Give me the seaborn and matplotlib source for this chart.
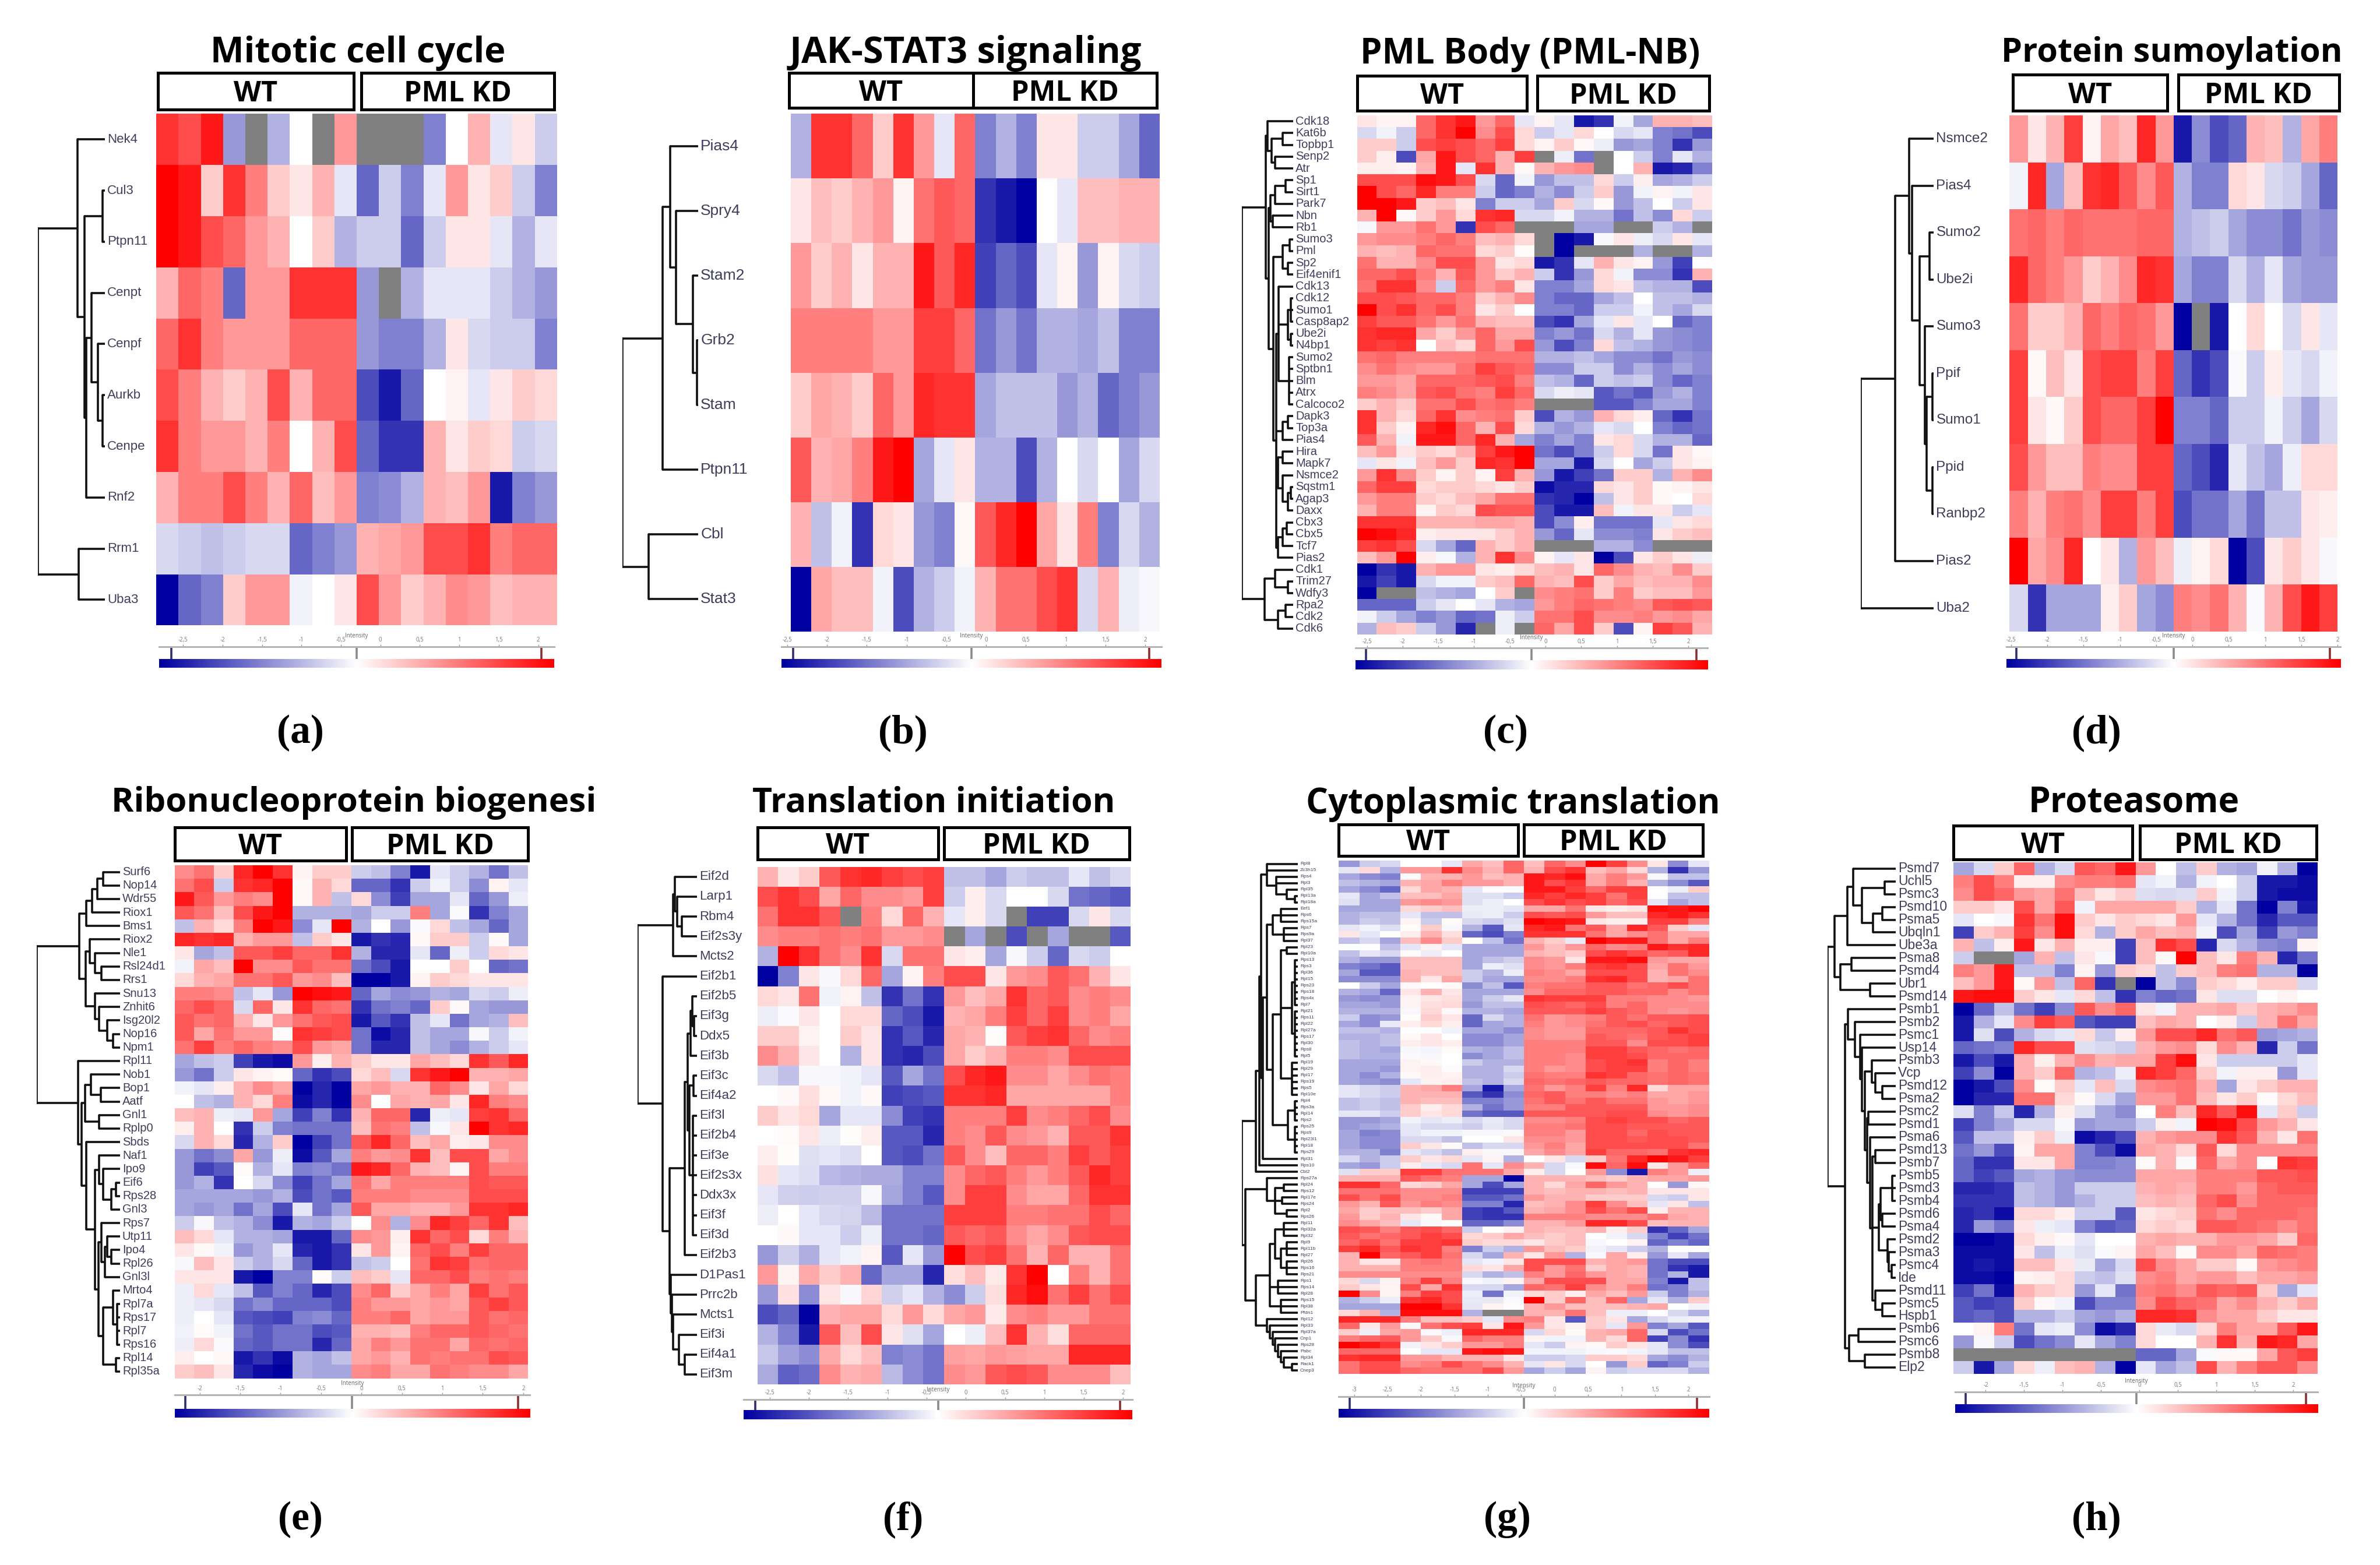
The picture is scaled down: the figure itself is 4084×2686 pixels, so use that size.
import numpy as np
import pandas as pd
import matplotlib
matplotlib.use("Agg")
import matplotlib.pyplot as plt
from matplotlib.colors import LinearSegmentedColormap
import seaborn as sns

X = np.nan  # grey cells (missing values)

a_genes = ["Nek4", "Cul3", "Ptpn11", "Cenpt", "Cenpf", "Aurkb", "Cenpe", "Rnf2", "Rrm1", "Uba3"]
a_rows = [
    [8,7,9,-4,X,-3,0,X,4,X,X,X,-5,0,3,-1,1,-2],
    [10,9,2,8,5,2,1,3,-1,-6,-2,-5,-1,4,1,2,-2,-5],
    [10,9,7,6,4,3,0,2,-3,-2,-2,-6,-2,1,1,-1,-3,-1],
    [3,6,5,-6,4,4,8,8,8,-4,X,-3,-1,-1,-1,-2,-3,-4],
    [6,8,5,4,4,4,6,6,6,-4,-5,-5,-3,1,-1.5,-2,-2,-5],
    [7,5,3,2,3,7,3,6,6,-7,-9,-6,0,0.5,-1,1,2,1.5],
    [8,5,4,4,3,5,0,3,7,-6,-8,-8,3,1,2,1.5,-2,-1.5],
    [3,5,5,7,5,3,6,2.5,4,-5,-4.5,-3,3,2.5,4,-9,-5,-4],
    [-1.5,-2,-2.5,-2,-1.5,-1.5,-6,-5,-4,3,3.5,4,7,7,8,5,6,6],
    [-10,-6,-5,2,4,4,-0.5,0,1,7,4,2,3,4.5,4,2.5,3,3],
]
a_tree = [1,[.41,1,[.3,[.03,2],[.28,[.2,1,[.1,1,[.03,2]]],1]]],[.39,2]]

b_genes = ["Pias4", "Spry4", "Stam2", "Grb2", "Stam", "Ptpn11", "Cbl", "Stat3"]
b_rows = [
    [-3,8,8,6,2,8,4,-1,6,-5,-3,-5,1,1,-2,-2,-3.5,-6],
    [1,2.5,2,3,4,0.5,5.5,6.5,6,-8,-9,-10,0,-1,2.5,2.5,3,3],
    [4,2,3,1,3,3,9,6.5,8.5,-7.5,-6,-7,-1,0.5,-4,0.5,-1.5,-2],
    [5,5,5,5,4,4,7.5,7.5,6,-5.5,-4,-5.5,-3,-3,-3.5,-2.5,-5,-5],
    [2,3.5,3,2,6,4,8.5,8,8,-3.5,-2.5,-2.5,-2.5,-4,-3,-6,-5,-4],
    [6.5,3,3.5,5,9,10,-3.5,-1,1,-3,-3,-7,-3,0,-1.5,0,-3.5,-1.5],
    [3,-2.5,-0.5,-8,1.5,1,-4,-5,0.3,6.5,8.5,10,3.5,1,5,-5,-1.5,-3],
    [-10,3.5,2.5,2.5,-0.5,-7,-3,-2,-0.5,3,5.5,5.5,7,8,-1.5,3,-0.7,-0.3],
]
b_tree = [1,[.47,[.37,1,[.29,1,[.07,1,[.02,2]]]],1],[.65,2]]

c_genes = ["Cdk18", "Kat6b", "Topbp1", "Senp2", "Atr", "Sp1", "Sirt1", "Park7", "Nbn", "Rb1", "Sumo3", "Pml",
           "Sp2", "Eif4enif1", "Cdk13", "Cdk12", "Sumo1", "Casp8ap2", "Ube2i", "N4bp1", "Sumo2", "Sptbn1", "Blm",
           "Atrx", "Calcoco2", "Dapk3", "Top3a", "Pias4", "Hira", "Mapk7", "Nsmce2", "Sqstm1", "Agap3", "Daxx",
           "Cbx3", "Cbx5", "Tcf7", "Pias2", "Cdk1", "Trim27", "Wdfy3", "Rpa2", "Cdk2", "Cdk6"]
c_rows = [
    [1,0.5,0.5,6,8,9,4,6,-1,0.5,-1,-9,-8,-0.5,-3.5,3,3,2.5],
    [-1.5,-0.5,-2,6,8,10,4.5,7,1.5,-2,-1,1.5,0,-1.5,-1,-5,-5.5,-7],
    [2,2,-2,7,7.5,7,6,7.5,1.5,0.5,2,0.3,-0.7,-4,-3.5,-5,-8,-4],
    [2,0.7,-7,3.5,9,7,6,3,7.5,X,-0.7,-5.5,X,0,-2,-5,-1,-3],
    [0.7,0.7,0.5,3,9,-1,8,3,0.3,3,4,4.5,X,0,3,-9,-8.5,-5],
    [7,7,7,9.5,9,7,-1.5,-6,-0.5,-4,-2.5,-2.5,1.5,-2,0.7,-3.5,-3,-2],
    [10,7,6,8.5,5,5,-2,-6,-5,-3,-4.5,-2,2,-4,-0.5,0.5,-0.5,1],
    [10,10,9,2,2.5,1,-5,-2,-2,-3.5,2,-1.5,0.3,-4,-2.5,0,-2,1],
    [3,10,0.3,2,4,1.5,8,8.5,-1.5,-1.5,-0.5,-3,-3,-5.5,-2.5,-4.5,1.5,-2],
    [-0.3,4,4,5.5,4,-8,7,6,X,X,X,-3.5,-3.5,X,X,-2,-3,X],
    [4,4.5,4.5,5,6,5,2.5,3,1.5,X,-10,-9,-0.3,1,-0.7,-1.5,1,-1],
    [3,2.5,3,6,5.5,5.5,1.5,2,0.2,X,-10,X,X,X,-3,X,X,-3],
    [5.5,3,3,4.5,7,7,4,1,1.5,-9,-8,-1,3,1,0.5,-4,-7.5,0],
    [6,6,7,5,3,6.5,4,2,3,-2,-8,-4,1.5,-0.5,-4.5,-4.5,-8,3],
    [5.5,8,8,4.5,-2,6,4,5,1,-5,-5,-3.5,1.5,1,-2.5,-3,-3,-7],
    [7,7,6.5,6,6,5,2,3,4.5,-5,-6,-6,-3.5,-2.5,0,-2.5,-2.5,-3],
    [10,7,8,6,7,5,1,2,0,-5,-5,-6,-2,-2,-0.5,-2.5,-3.5,-1.5],
    [7.5,6.5,6.5,5.5,4,5.5,3,2.5,2.5,-7,-8,-3.5,-1,1,-1,0,-6,-5],
    [8,8.5,8.5,3.5,2,4,6,3.5,3.5,-5,-4,-5.5,-1.5,-3,-1,-4,-4.5,-5],
    [8,7.5,8,0,2.5,1.5,6,4,7,-4,-7,-5,1.5,-2.5,-3,-4,-4.5,-5],
    [5.5,6,5,5,5,5,5.5,5.5,5.5,-3,-3,-2.5,-3.5,-4.5,-4.5,-5.5,-4,-4.5],
    [4.5,5.5,4.5,4,4,5.5,7.5,6.5,6,-4.5,-4.5,-2,-2,-4.5,-3,-4.5,-3.5,-4.5],
    [4,4,3.5,6,6,6,6.5,7,5,-2.5,-3,-6,-2,-2.5,-2,-4.5,-6,-5],
    [5,4.5,3.5,6.5,7,5.5,5,7.5,6,-1.5,-0.7,-1,-6.5,-5.5,-6.5,-4,-3,-5],
    [2,3,2,5.5,5.5,7,5.5,6,5,X,X,X,-6.5,-6.5,-5,-3.5,-3.5,-5],
    [8,3,1.5,6,8,4.5,5,5.5,2,-7,-3,-4,3,1.5,0.7,-6,-8,-5.5],
    [8,2,0.5,8.5,9.5,6,3,7,1.5,-3,-4,-3,-1,-1.5,0,-5,-6,-5.5],
    [6.5,3,-0.5,9,9,6,8.5,3,-3.5,-5,-3.5,-5,1,1.5,-1.5,-3,-3,-6],
    [2.5,4,1,2,1.5,3,7.5,9,10,-5.5,-7,-5,-2,1.5,-1.5,-5.5,1,0.3],
    [-1,1,-0.5,2.5,4,2,8.5,8,10,-3.5,-3.5,-9,-1.5,0,-3.5,-2,1,0.5],
    [4,8,4.5,2,0.5,2,0.5,7.5,3,-4,-9,-7.5,-5.5,2,2,-3,3,4.5],
    [6,7.5,7.5,1.5,2,2,1.5,1,2,-9.5,-8.5,-8.5,1.5,1,2,0.3,0.5,1],
    [4,5,5,2,1.5,2.5,3.5,5.5,5.5,-8,-8.5,-10,-2.5,1,2,0.3,0,1.5],
    [3,5,5,0.5,2,1.5,7,6.5,6.5,-7,-9,-9,2.5,-0.5,1,1,-2,-1],
    [8,8,8,3,3,3,3.5,3.5,3,-7,-4.5,0.7,-5.5,-5.5,-5.5,-1,1,1.5],
    [10,9.5,8.5,0.7,1,1,1,2,3,-4,-6,-1,-4.5,-4.5,-5,1,2,2.5],
    [7.5,8,7,-1.5,-3.5,-6,3,2,3,X,X,X,-3,-3,-4.5,X,X,X],
    [2.5,4,10,0.7,-0.3,-3,3,8,4.5,0.5,-1,1,-10,-7,1,2,1,-0.7],
    [-10,-8,-9,3,4,4,1,0.7,1.5,2.5,3,1,6,4.5,3,2.5,4.5,2],
    [-9,-7.5,-9,-1.5,-0.5,-0.5,2,2.5,6,3,2.5,7,2,3.5,2.5,3,3,4.5],
    [-10,X,X,-2.5,-3,-3.5,0,2,X,4.5,5,5.5,2,5,2,2.5,2.5,4],
    [-6,-6,-6,-2,-1,0,-1,-3,-3.5,4,5,6,5.5,5,4.5,6.5,7,6.5],
    [-0.5,-2,-3.5,-5,-4,-6,-5.5,-0.7,-2,5.5,5.5,7,4.5,4.5,5,4,4.5,3.5],
    [-3,2.5,2,-2,-4,-8.5,X,-0.7,X,6,3.5,7,2,-7,0.5,7.5,6.5,3],
]
c_tree = [1,
          [.53,[.5,1,[.42,[.2,2],[.35,2]]],
           [.48,[.44,[.35,[.15,2],1],[.4,2]],
            [.38,[.2,[.07,2],[.1,2]],
             [.33,[.28,1,[.1,[.05,3],[.05,2]],[.08,5]],[.2,[.1,2],1],
              [.3,[.2,2],[.2,1,[.1,[.05,2],1]]],[.3,[.2,[.12,2],1],1]]]]],
          [.56,[.35,1,[.1,2]],[.3,[.15,2],1]]]

d_genes = ["Nsmce2", "Pias4", "Sumo2", "Ube2i", "Sumo3", "Ppif", "Sumo1", "Ppid", "Ranbp2", "Pias2", "Uba2"]
d_rows = [
    [4,1,3,7.5,0.5,3.5,2.5,8.5,4,-9,-4.5,-7,-6,3,2.5,-3,3.5,5],
    [-0.5,8.5,-3.5,2.5,8,8.5,6.5,4.5,6.5,-3,-5,-5,1.5,1,-1.5,-2,-3.5,-6],
    [5.5,6,5,6,5.5,5.5,5.5,6,6,-3,-2.5,-2,-3.5,-4.5,-4.5,-5.5,-4,-4.5],
    [8.5,6,5,4,2,3,4.5,8.5,8,-3.5,-5,-5,-1.5,-3,-1,-3.5,-4,-4],
    [5.5,2,2,3,6,5,6,5.5,4,-10,X,-9,0,1.5,0,-1.5,1,-1],
    [7.5,0.3,2.5,1,7,7.5,7.5,5,7.5,-6,-8,-7,-0.2,-2,0.7,-1,-1.5,-0.5],
    [7.5,1,0.3,2,7,6,6,7.5,10,-5,-5,-6,-2,-2,-0.5,-2,-3.5,-1.5],
    [7,4,2.5,2.5,5,4.5,4.5,7.5,7.5,-6,-7,-8.5,-1,-2.5,-3.5,-0.7,1.5,1.5],
    [5,3,5,5.5,4.5,7.5,7.5,5,7.5,-7,-5.5,-5.5,-3.5,-5.5,-2.5,-2.5,1,0.7],
    [10,3.5,4.5,8.5,0,1,-3,4,2.5,-0.7,0.5,1.5,-10,-7,1,2,1,-0.3],
    [-1.5,-8,-3.5,-3.5,-3.5,0.7,2,-3.5,-4.5,5,4.5,5.5,3,-0.2,3,7,9,7.5],
]
d_tree = [1,[.53,[.34,1,[.3,1,[.19,[.06,2],[.12,1,[.1,[.02,2],[.02,2]]]]]],1],1]

e_genes = ["Surf6", "Nop14", "Wdr55", "Riox1", "Bms1", "Riox2", "Nle1", "Rsl24d1", "Rrs1", "Snu13", "Znhit6",
           "Isg20l2", "Nop16", "Npm1", "Rpl11", "Nob1", "Bop1", "Aatf", "Gnl1", "Rplp0", "Sbds", "Naf1", "Ipo9",
           "Eif6", "Rps28", "Gnl3", "Rps7", "Utp11", "Ipo4", "Rpl26", "Gnl3l", "Mrto4", "Rpl7a", "Rps17", "Rpl7",
           "Rps16", "Rpl14", "Rpl35a"]
e_rows = [
    [4.5,5.5,2,8.5,10,8,0.5,2,2,-2,-2.5,-5,-9,-1,-2,-3,-5.5,-2.5],
    [5.5,7,-2,8,8.5,10,0.3,3,1.5,-6,-6,-8,-2,-0.5,-2,-4.5,0.5,-1],
    [9,6.5,4,5,4.5,10,0.3,3,-2.5,1.5,-4.5,-7.5,-3.5,-3.5,-1,-6,-4,-0.7],
    [6.5,5.5,2.5,7,9,10,-3,-3,-3,-3.5,-2,-2,5,-3.5,-0.2,-8,-5,-3.5],
    [-2.5,3,1.5,5,10,9,-4.5,-1,10,-3,0,-4,-0.2,1.5,-2.5,-3.5,-6,-3.5],
    [8.5,8,8.5,3,4,4,-2.5,2,1,-9,-8,-8.5,0.3,2,2,-2,0.3,-3.5],
    [1,-3.5,-2.5,6.5,6.5,7.5,6,6,8,-3,-8.5,-8.5,-1,-6,-0.7,-2,1.5,1],
    [-0.5,3.5,2.5,10,4.5,4.5,6.5,5.5,5.5,-5.5,-7,-9,0,0,2,0,-6,-5.5],
    [1.5,3,3.5,5.5,5.5,6.5,4,4.5,2.5,-10,-10,-9,0.5,2,1.5,1,1,1],
    [5,5,4.5,-2.5,-1,-4,10,9.5,9,-6,-3.5,-4.5,-4,-3,-3.5,-1.5,-2,-0.7],
    [6,7,6,-1.5,6,1,8,6,5.5,-8,-5.5,-5,-6,2,0.3,-3.5,-4,-4],
    [6.5,5.5,6,3,1,4,5.5,6.5,7,-9,-6.5,-8,-2.5,-1,-5.5,-3.5,-3,2.5],
    [6.5,3.5,5.5,4,4,0.2,8,7.5,7,-5.5,-9.5,-8.5,-2.5,-3.5,-3.5,-0.3,-2,-0.5],
    [5.5,7.5,5,6,5,4.5,7,4,3.5,-5.5,-8.5,-8.5,-2.5,-3.5,-4.5,-3,-2,-1],
    [-3.5,-2.5,-2,-7.5,-9,-9.5,4,0.7,3,2,1,1,3.5,2.5,1.5,8,6.5,8.5],
    [-4,-5.5,-2,1,0.5,0.2,-6,-8,-7,1.5,2.5,-1.5,8,9,10,3,3,3.5],
    [-0.5,-1,0.7,3,4.5,3.5,-10,-8.5,-10,3.5,4,3,3,6,4.5,1,3.5,1.5],
    [0,-2.5,-3,3,1.5,5,-9.5,-8.5,-10,4.5,0,3.5,3,3.5,1,8.5,5,4.5],
    [2.5,3,-0.7,-1,4,-3.5,-7.5,-5,-8,3,6,6,-8.5,-0.7,-1,7.5,8,6],
    [0.7,3,0,-8,-2,-5,-5.5,-5.5,-5.5,2.5,5.5,5,-2.5,-0.3,1,10,8,8.5],
    [-1.5,3,1.5,-8.5,-3,2,-10,-7.5,-5.5,6.5,8.5,6,2.5,3.5,0.7,1,4.5,4.5],
    [-4,-5.5,-4.5,3.5,-4,-0.7,-9.5,-6.5,-3.5,5,4,4.5,8,2.5,7,7,3.5,4.5],
    [-4,-7.5,-6.5,0.2,-3,-1,-5,-4.5,-5.5,9,8.5,6,3,2.5,0.5,7,5,5],
    [-4,-3,-8,0,-1.5,-4.5,-7.5,-5.5,-3.5,5.5,3.5,5,5,5,5,7,6.5,6.5],
    [-3.5,-3.5,-3.5,-3.5,-4,-3,-7,-5.5,-6.5,5,5,5,4.5,4.5,4.5,7,7,7],
    [-3.5,-4,-3.5,-5.5,-3.5,-7,-1,-5.5,-3.5,6.5,3.5,3.5,3,3,4,8,8,8.5],
    [-2,-0.3,-2.5,-3,-4.5,-9,-3,-3.5,-2,0,4.5,-3,4.5,8.5,7.5,6,8,2.5],
    [2.5,1.5,-1,-3,-3,-3.5,-9,-9,-6,4.5,4,0.7,8,6,7,1.5,5,3],
    [1,0.3,-0.5,-4,-3,-1,-8.5,-9,-8,1,4,0.5,6,7,5,7.5,6,6],
    [-0.3,2.5,1,-2,-3,-1.5,-6,-9,-8,-2.5,-2,0,5.5,8,7.5,5.5,6,6],
    [1,1,1,-9,-10,-5,-5,0.2,-2,2.5,2,-1,6,6,7,5,5.5,5],
    [-0.7,1.5,-1,-2.5,-6.5,-5,-6,-8.5,-7,4.5,6,2,3.5,5,3.5,7.5,5.5,6.5],
    [-0.7,-1,-1.5,-5.5,-4.5,-6,-6,-6,-7,5,4,4,3.5,4,3.5,6.5,7.5,6.5],
    [-0.7,0,-1,-6.5,-7,-7.5,-5,-4.5,-6,5,5,6,3.5,4,4,6.5,5.5,6],
    [-0.5,0.2,-0.5,-5.5,-6.5,-5.5,-5.5,-7,-6.5,3,3,2.5,5,6,6,6.5,6,5.5],
    [-0.7,1.5,-0.2,-6,-6.5,-5.5,-5.5,-8.5,-6,3.5,5,4,5.5,5.5,3.5,6,5.5,6],
    [0.7,0,0.3,-9,-8,-9.5,-3,-3.5,-2.5,3.5,4,3,5.5,5,5.5,5.5,7,6.5],
    [2,2.5,1,-8.5,-9.5,-10,-3,-3.5,-3.5,4.5,5,3.5,3.5,5.5,5,4.5,4.5,3.5],
]
e_tree = [1,
          [.49,[.4,[.33,[.27,[.2,2],1],1],1],
           [.41,[.36,1,[.3,1,[.22,2]]],[.3,1,[.25,1,[.15,1,[.08,2]]]]]],
          [.5,1,[.46,[.42,[.35,1,[.23,2]],[.25,2]],
                 [.4,1,[.3,[.25,1,[.2,1,[.1,[.05,2],1]]],
                        [.26,[.22,1,[.18,[.15,1,[.1,2]],1]],[.2,[.08,1,[.03,4]],[.05,2]]]]]]]]

f_genes = ["Eif2d", "Larp1", "Rbm4", "Eif2s3y", "Mcts2", "Eif2b1", "Eif2b5", "Eif3g", "Ddx5", "Eif3b", "Eif3c",
           "Eif4a2", "Eif3l", "Eif2b4", "Eif3e", "Eif2s3x", "Ddx3x", "Eif3f", "Eif3d", "Eif2b3", "D1Pas1", "Prrc2b",
           "Mcts1", "Eif3i", "Eif4a1", "Eif3m"]
f_rows = [
    [3,1,2,6.5,8,8.5,7.5,7,7.5,-2.5,-2.5,-3.5,-2,-2.5,-2.5,-1,-2.5,-1.5],
    [7,8,7,3.5,6,4.5,4.5,4,7.5,-2,0.7,-1.5,0,0,-1.5,-5.5,-6,-6.5],
    [5.5,8,8,6.5,X,5,1.5,6,3,-1,0.7,-1.5,X,-7.5,-7.5,-1.5,1,-1.5],
    [4.5,5,5,5.5,5,5.5,4,4,4.5,X,-3.5,X,-7,X,-3.5,X,X,-6.5],
    [-3,10,8,5.5,4.5,8,-1.5,5.5,5.5,1,0.7,-3.5,-0.3,-2,-6,-1.5,-2,0],
    [-10,-5,1,-0.3,1.5,6,-3.5,0.5,5,7,7,1,4,4.5,6.5,5.5,3,1],
    [1.5,1,5.5,-0.5,0.5,-2.5,-8,-5.5,-8,4,2.5,3.5,8,6,6.5,4.5,5,4.5],
    [-0.7,-0.2,1,0,1.5,1.5,-6,-7,-9,3,3.5,5,7.5,6,7.5,4.5,5,3.5],
    [2,2,0.5,0,2,1,-8,-6.5,-8.5,3.5,3,0.1,6.5,7.5,8,6,4.5,5],
    [4.5,3,1,0,-3,1,-8,-8.5,-7,3.5,2,3,5,5,4.5,7,7,7],
    [-1.5,-2.5,-0.3,-0.3,-0.5,-1,-6.5,-3.5,-5.5,7,8.5,9,4.5,4.5,3.5,4.5,5.5,5],
    [0,0.3,1.3,0.3,-0.5,0.3,-7.5,-7,-6.5,8,8,8.5,3.5,3.5,3.5,3.5,3.5,5],
    [2,1,1.5,-3.5,-1,-1,-4.5,-7.5,-8,5,5,5,7.5,4.5,5,6,7,4.5],
    [0,0.2,1,-0.7,0.1,0.7,-6.5,-6.5,-8.5,5,4.5,6.5,4.5,4,3,6.5,6.5,8],
    [0.7,0.1,-1.2,-1,-1.3,0,-6.5,-7,-5.5,6.5,4.5,2.5,6,6,5,7.5,6.5,7.5],
    [1.2,-1,-1.3,-2.8,-3,-3.3,-3.3,-5,-5,4.5,6,6.5,5,4,5,6.5,8.5,7.5],
    [-1,-1.8,-2,-1.8,-1.8,-0.3,-3.5,-5,-6.5,4.5,7.5,7.5,4.5,3.5,3.5,6,8,8],
    [-0.7,0,-1,-1.5,-1.7,-2.7,-5.5,-5.5,-5.5,7.5,7.5,7.5,5,5,5.5,5.5,7,6],
    [0,0.3,-1,-1,-2,-0.7,-5.5,-5.5,-6,6.5,6,6.5,4.5,3.5,4.5,6.5,7,7],
    [-4,-1.8,-3.2,-1,-0.5,0.5,-6.5,-1,-4,10,7,7.5,5.5,3,6,3,3,5.5],
    [4,0.4,3.3,2,3,-6,-3.5,-3.5,-8.5,1.3,2.5,0.8,8,10,0,5,3,5.5],
    [-4,1.2,-4.5,1,-0.3,1.7,-1.8,-1,-3,-4.5,-2,1.3,8.5,9.5,5.5,7.5,5.5,7],
    [-7,-6,-10,3,3.5,3.5,1.5,4,1.5,3.5,4,0.8,4.5,5,4,4,5.5,5.5],
    [-3,-5,-9,6.5,2.5,7,1,-1.2,-3.5,0,-0.7,2.5,8,3,1.3,6,6,6],
    [-2.2,-3.7,-4.5,3.3,1.5,2.5,-5,-4.5,-5.5,3.7,3.5,4,3.7,3.5,3.5,8.5,8.5,8.5],
    [-3.3,-6.2,-5.7,4.5,3,3.3,-2.7,-4.5,-5.5,4.5,4,6.5,7,6.5,4.5,4.5,4.5,2.5],
]
f_tree = [1,[.4,[.37,1,[.33,1,[.25,2]]],1],
          [.58,1,[.46,[.28,[.2,[.15,[.1,[.07,1,[.04,2]],1],[.12,[.05,2],[.06,7]]],1]],
                  [.44,1,[.42,1,[.4,1,[.3,1,[.2,2]]]]]]]]

g_genes = ["Rpl8", "Zc3h15", "Rps4", "Rpl3", "Rpl35", "Rpl13a", "Rpl18a", "Eef1", "Rps6", "Rps15a", "Rps7", "Rps9a",
           "Rpl37", "Rpl23", "Rpl10a", "Rps13", "Rps3", "Rpl36", "Rpl15", "Rps23", "Rps18", "Rps4x", "Rpl7", "Rpl21",
           "Rps11", "Rpl22", "Rpl27a", "Rps17", "Rpl30", "Rps8", "Rpl5", "Rpl19", "Rpl29", "Rpl17", "Rps19", "Rps5",
           "Rpl10e", "Rpl4", "Rps3a", "Rpl14", "Rps2", "Rps25", "Rps9", "Rpl23l1", "Rpl18", "Rps29", "Rpl31", "Rps10",
           "Cbl2", "Rps27a", "Rpl24", "Rps12", "Rpl17e", "Rps24", "Rpl2", "Rps26", "Rpl11", "Rpl32a", "Rpl32", "Rpl9",
           "Rpl11b", "Rpl27", "Rpl26", "Rps16", "Rps21", "Rps1", "Rps14", "Rpl28", "Rps15", "Rpl38", "Pfdn1", "Rpl12",
           "Rpl33", "Rpl37a", "Cnp1", "Rps28", "Pabc", "Rpl34", "Rack1", "Cnep3"]
g_rows = [
    [-4,-2,-1.5,0,0,-1,3.5,2.5,6,2.5,6,4.5,10,7.5,4.5,1,-4.5,-1],
    [-1,1.5,-3,4,4,8,4.5,3,6,3,7,8,2.5,3.5,1.5,-3,-8,-4],
    [-3.5,-4.5,-5,0.2,3,3,4,2.5,3,9,8.5,9.5,3.5,5,4,-0.3,-2.5,-2.5],
    [-2.5,-3,-3.5,3,3.5,5,4,4,3,9,7,8,3.5,5,3,-3,-4.5,-6.5],
    [-3.5,-4.5,-6,1.5,3.5,3,-1,0,0,9,9,7.5,6,7.5,7.5,0,-0.7,2],
    [-1,-3.5,-2.5,2.5,2.5,3.5,-1.2,-1.2,-2,8.5,7.5,8.5,7.5,5.5,7.5,0,-2.5,-2.5],
    [-1.2,-3.5,-3.5,4,4.5,4,-1.2,-0.7,0,7,8,7,7.5,6,7,-1,-3.5,-2.5],
    [-3.5,-3.5,-3.5,1.5,2,2.5,-0.7,-0.7,-1,3.5,3.5,5.5,1,0.7,1,9.5,9,10],
    [-3,-2.5,-2.5,-1,-2.5,-2.5,-0.8,-0.7,-2,7,6.5,7,4,2.5,2.5,8.5,9,8],
    [-3,-2,-2.5,0.4,-2,0.2,-1.5,-2,-1.2,10,9.5,9,1,0.7,0.7,7.5,7.5,5],
    [-1,-0.5,-1.3,0.1,2,-0.3,-3,-6.5,-1,8.5,9,5.5,6.5,3.5,8.5,6.5,2,-1],
    [1,-1,0.1,0.7,3,1.3,-6,-7,-5,8,8,8,5.5,3.5,4.5,5.5,3.5,3.5],
    [-2.5,-1.5,-3.5,2.5,4.5,2,0,-2.5,-5.5,3,2,-0.8,10,9,9,5.5,3.5,5],
    [0,0,-2.5,-1,0.5,-1,-3.5,-3.5,-3.5,4,2.5,4,6,4.5,5,9,8,8.5],
    [-2.5,-1,-1.5,0.2,-0.7,0,-3.5,-3.5,-3.5,3,2.5,2,7,8,7,6,6.5,8.5],
    [-3,-4,-4,2.5,2.5,2.5,-3.5,-2.5,-1.8,4.5,4,1,9,9,9.5,4,3.5,3.5],
    [-5,-5.5,-6.5,2.5,2.5,2.5,-3.5,-0.7,-1.2,4.5,4,5,7.5,8,7,3.5,5.5,4],
    [-3.5,-6.5,-6.5,3,2.5,2.5,-2,-3,-0.7,5,4.5,3.5,7,7,7,3,5.5,4.5],
    [-4.5,-4.5,-4.5,3,1,3.5,-2,-3.5,-3.5,4.5,4.5,5,8,8.5,7,3,3.5,5.5],
    [0,-2,-3.5,0.3,0,0.3,-4.5,-2.5,-6.5,5,5.5,5.5,6.5,6.5,5.5,6,7,5.5],
    [-3,-3.5,-6,1,3,1,-3.5,-3.5,-3.5,4.5,6,6,6.5,6.5,6,6,4.5,5.5],
    [-4,-4.5,-4,0.5,1,1.3,-3.5,-2,-1,8,7.5,7.5,7.5,5,5,4.5,4.5,4],
    [-3.5,-3.5,-4,0.5,1.3,1.5,-4,-2.5,-2.5,7,6.5,6,7,5,6,4.5,4.5,4.5],
    [-3,-3,-3,-0.3,1.5,0.3,-3,-3,-3.5,6.5,6.5,6.5,7.5,6.5,6,4.5,4,4.5],
    [-2,-4.5,-4,0.1,2,1,-6,-1.5,-3,5.5,4,4.5,5,6.5,5.5,6.5,6.5,7],
    [-3.5,-4.5,-0.8,0.7,1.5,0.7,-6,-3.5,-3,5,4,4.5,5.5,6.5,7,6,6.5,7],
    [-2.5,-2.5,-3,0,0,-0.5,-3.5,-3.5,-4.5,4.5,4,4,6,6,6,6.5,8,7],
    [-3,-3,-2.5,0.3,1,0,-4.5,-4.5,-3.5,4.5,4,4,6.5,6,5.5,6.5,7,7.5],
    [-2.5,-3,-2.5,0.7,1,0.7,-4.5,-4.5,-3.5,5,5,5,6.5,6.5,4.5,7,7,7.5],
    [-2.5,-3,-3.5,-0.3,-0.4,0.2,-3,-3.5,-2.5,5,5,5,7.5,7.5,6.5,6,5.5,6],
    [-2.5,-3,-3,-0.2,-0.3,0,-4.5,-3.5,-2.5,5,5,4.5,7.5,7.5,7,6,6,6],
    [-3.5,-3.5,-3.5,0.5,0.3,0,-2,-3,-3,5,5,4.5,7,7.5,8,5,6,5],
    [-3.5,-3.5,-4,0.5,0.7,-0.1,-3,-3,-1.5,5,4,4.5,7,7.5,7.5,5,6,5],
    [-3.5,-4.5,-3,0.3,0.7,0.5,-3,-3,-2,5.5,5,5,8,7.5,6,5.5,6,5.5],
    [-3.5,-4,-4.5,-1,0.5,0.7,-2.5,-3,-1.5,6,5.5,6,6.5,6,6,5.5,6,5.5],
    [-1,-1.5,-2,3,3.5,5,-3.5,-9,-3.5,5.5,4,5,7.5,5,8.5,1.5,3.5,3.5],
    [-1,-1.5,-2,3,3,3,-6.5,-8,-4.5,6,6.5,5,5,4.5,5,3.5,3.5,4],
    [-2.5,-2,-2.5,3,2.5,2.5,-5,-5,-4,5.5,6.5,5.5,6.5,5.5,5.5,4,3.5,4],
    [-2.5,-2,-2.5,2,0.7,1.5,-3,-5.5,-4,5,5,6.5,6.5,6.5,6.5,4,4,4.5],
    [-1,-1,-2,2,1,1.5,-5.5,-6.5,-6.5,6.5,6.5,6.5,6.5,7,7,4.5,4,4.5],
    [-4,-4,-3.5,-0.5,-1,-0.7,-1.5,-0.8,-1.5,4.5,4.5,5,7,7.5,7,7,6,6.5],
    [-4,-3.5,-3,-1,-1.5,-1.5,-2,-1,-1.5,5,5,5.5,7,7,6.5,6.5,6.5,6.5],
    [-3.5,-5,-4.5,-1,-0.5,-0.5,-0.3,-0.3,-0.2,5,5,4,7,7,6,7,6.5,6.5],
    [-3.5,-4.5,-4.5,-1.5,-1.5,-2.5,0,0,1,4.5,4.5,4,7,7,6.5,7,7,6.5],
    [-3.5,-4.5,-4.5,2,1,0.2,-2.5,-1.5,-1.5,4,5,3.5,7,7,7,7,7,5.5],
    [-3,-3,-5,-1,-1.5,-2.5,0.7,-0.3,-0.3,3.5,4.5,3.5,7.5,6,6,5.5,8,8.5],
    [-1.5,-3,-2,2,1,1.5,-1,0.5,-3,0,1,-1.5,2,5.5,8.5,10,9,7.5],
    [-3.5,-4,-2,0.7,-1,-1.5,5.5,-1,4.5,3,-1.5,-0.3,9.5,6,9.5,1,4,6],
    [-1.2,2,2,7.5,7.5,5.5,5.5,5.5,3.5,0.7,-1.5,0.1,4,-4.5,-9,5,4,-0.7],
    [3,3,3,6.5,5.5,5,-3.5,-3.5,-10,3,3,3,2.5,2,3,3.5,3.5,4],
    [8,8,6,1.5,2,3.5,-3.5,-7,-3.5,3,1.5,3.5,6,4,3,0,-4,0.3],
    [5.5,5.5,5.5,4.5,4.5,4.5,-7.5,-7.5,-7.5,3,2.5,3,3,2.5,3,1,1,1],
    [7,5.5,7,4.5,4.5,5,-6.5,-6.5,-5.5,4,3,3,2,2,2,-1.5,-2,1],
    [4,3,6.5,4,5,4.5,-5,-5,-8.5,2.5,3,4.5,7.5,4.5,2.5,-1,1,-2.5],
    [3.5,2,2.5,2.5,2,3.5,-7.5,-8,-6.5,3,3.5,4.5,7,5.5,7,0.7,3,3],
    [4,2,3,1,0.3,3.5,-7.5,-8,-8,5,5,5,4.5,4.5,4.5,5.5,3.5,3],
    [4.5,3.5,2.5,-1,-0.3,0.1,-6,-6,-4.5,3,3,4,8.5,8.5,7,2.5,3,3],
    [7,6.5,5,6.5,7,6,-2,0,0.5,3,2.5,2.5,3,0.7,2,-8,-6,-3.5],
    [6.5,5.5,6,6.5,7.5,7,1.5,2,3.5,2.5,2,2.5,0,-0.5,-1.5,-5,-7.5,-5.5],
    [6,7,5.5,7.5,7.5,8,2,1.5,1.5,1,2,2.5,-0.3,0,0.5,-6,-5,-6],
    [7.5,8.5,6.5,8,7.5,5,-5,-2,-3,4,2.5,2,-0.5,-1,-2,-3,0,0],
    [3,10,6,6.5,7.5,5.5,-1.5,-3.5,3,1,4,-3,-0.3,3.5,0.7,-4,-1,-3.5],
    [3,1,1,5,5.5,5,-1,-0.5,1,7,7,7,3,3.5,4,-5.5,-7,-7],
    [3,3,3,5,5,5,1.5,1,3.5,7,4,5.5,2,3.5,3,-5.5,-8,-9],
    [4.5,4.5,4.5,4.5,4.5,4.5,-1.5,-3,-2.5,5,4,6,4,3.5,3,-5.5,-3,-9],
    [1.5,-1.5,0.5,5,7.5,5,-0.3,-0.5,0.5,3.5,7,7,7,3.5,3.5,-5,-9,-2.5],
    [2,1,0.5,7,3.5,8,-1.5,-1.5,-3.5,6,5.5,7.5,4.5,3.5,5,-5.5,-5,-2.5],
    [10,4.5,0.5,5,7.5,7,-0.7,-5.5,-0.5,1.5,2,0.7,3.5,2.5,4,-2,-5,-3],
    [-3,-2,-0.7,8,8.5,7,-0.8,-0.8,-0.2,10,2,6,2.5,6,-3.5,-1,-3,2],
    [-3.5,-3.5,-3.5,10,10,8,-1,0.5,0.1,3,4,2.5,2.5,2.5,3,3.5,0,-0.5],
    [1.5,3,-3,9.5,9.5,9.5,-3,X,X,3,3,5.5,2.5,-0.7,-0.7,0,-1.5,-3],
    [8.5,8.5,8.5,5,2.5,2.5,2,-1,4.5,5,1,-6.5,2,1,-3.5,-1.5,-0.7,-0.5],
    [6,1,4,-0.3,5.5,7,7.5,1,9,4,1,0.5,2,-1,4,-5,-3.5,-6.5],
    [2,-0.7,3.5,4,-0.3,-0.7,8.5,8.5,8.5,-1.5,1.5,0.2,3,3.5,6,-1.5,-7,-5.5],
    [5,6,6.5,4,2,-0.3,6,5,5,0.5,-0.5,-0.5,3,1.5,6,-7.5,-4.5,-8],
    [10,9,8,-0.5,1,2,4,4,5,-1,-2,0.5,0.3,2,1,-1,-4.5,-7],
    [6,6,6,0,-1,-1,9,9.5,9,-0.5,-0.5,-0.5,-0.3,-0.2,-0.5,-1,-2.5,-2.5],
    [8,8.5,8.5,4,4,3,3,3,1,-2,-2,-1.5,2,2,1.5,-3.5,-4.5,-3],
    [5.5,7,7,4.5,5,7,5.5,4.5,3,-1,1,-1.5,0,-4,2,-6,-5,-2],
    [5.5,7,7,6,5.5,5.5,5.5,7,4,-3.5,-2,-3.5,0.5,-2,-1.5,-1.5,-1.5,-3],
]
g_tree = [1,
          [.75,[.68,[.65,[.55,2,[.38,2,[.2,1,[.05,2]]]],
                     [.62,[.55,[.45,[.3,3],[.25,3]],
                           [.45,[.3,[.2,2],[.1,[.05,8],[.05,8]],[.1,6]],[.18,[.05,4],[.05,5]]]],1]],1],1],
          [.93,[.55,1,[.4,[.25,2],[.28,2],[.2,2]]],
           [.75,[.5,[.4,[.25,3],[.3,[.2,3],[.2,3]]],[.35,3],[.3,3]],
            [.55,1,[.5,1,[.45,1,[.4,1,[.35,1,[.3,1,[.25,1,[.1,2]]]]]]]]]]]

h_genes = ["Psmd7", "Uchl5", "Psmc3", "Psmd10", "Psma5", "Ubqln1", "Ube3a", "Psma8", "Psmd4", "Ubr1", "Psmd14",
           "Psmb1", "Psmb2", "Psmc1", "Usp14", "Psmb3", "Vcp", "Psmd12", "Psma2", "Psmc2", "Psmd1", "Psma6", "Psmd13",
           "Psmb7", "Psmb5", "Psmd3", "Psmb4", "Psmd6", "Psma4", "Psmd2", "Psma3", "Psmc4", "Ide", "Psmd11", "Psmc5",
           "Hspb1", "Psmb6", "Psmc6", "Psmb8", "Elp2"]
h_rows = [
    [-3.5,-1.5,2,6,-3,-1.5,6.5,6,9,4,0,-2.5,2,-3,-3.5,-0.5,-3,-10],
    [5,7,5,0.7,0.7,4.5,5,5,5.5,-1,-0.5,-3,-0.5,0,-2,-9,-9,-9.5],
    [4.5,7,6,4,3.5,5.5,2.5,1,2,-1.3,-1.5,-1.3,2,-0.5,-2,-9,-9.5,-9.5],
    [2,2,1,7,3.5,6.5,-0.5,3.5,3.5,3.5,3.5,2,-3,-1,-5.5,-10,-5,-9],
    [-1,0,-0.3,8,5.5,9.5,2,1,2,1.5,1,4,-1,-3,-5.5,-8.5,-6.5,-6.5],
    [-7.5,2,3,7.5,4.5,9.5,1.5,-3,2,3.5,2.5,3,-0.5,-7,-3.5,-7.5,-4,-5],
    [3,-2.5,0.7,9,1,3,0.7,0.7,-7.5,2.5,8,7,-8.5,-1.5,-3,-4.5,-5,0.5],
    [-2,X,X,-3.5,3,-2.5,1,-0.3,-7.5,2.5,0.3,10,2.5,1,5,3,-8.5,-5.5],
    [5,4,9,-2.5,-2.5,-5,0.5,-4,2,1.5,-2.5,2,2.5,5,5.5,-3,-3,-10],
    [2.5,4,9,0.3,4,-2.5,6,-8,X,-10,-2.5,-4.5,2,1.5,0.7,2,2,-1.5],
    [9,9.5,9.5,2,1,-1,1.5,-2.5,-8,-5,-6,-5.5,1,-1.3,-1.3,0,0.5,0],
    [-10,-6,-2.5,-5.5,-7.5,-4.5,6.5,4.5,6,1,-0.5,3,3,3.5,2,3,3.5,4.5],
    [-9,-3,-1,4.5,7.5,6.5,-6.5,-7.5,-7.5,2.5,3.5,3,0,0.7,-2,3,5.5,3.5],
    [-9,-1.2,-7,-3,-1.5,-1,1.5,-2.2,0.7,4,7,7,8.5,5.5,6.5,-4,-3.5,-3],
    [-6,-5.5,-5,8.5,7,7,-1.2,-1.5,-2,3,4,4.5,1.5,4.5,3,-8.5,-2,-5.5],
    [-9,-7,-9,3,0.7,3,4.5,3,3.5,3.5,7.5,9.5,1,-2,-2,-2,-2,-1],
    [-7.5,-4.5,-10,3,2,6,-3,-2.5,-0.7,8.5,7.5,6,2,-0.5,0.7,0.7,-4,-1],
    [-10,-9,-7,4.5,0.2,2,-1,2.5,-1.5,4.5,5,5.5,3,-3.5,1,2,3,3],
    [-10,-8.5,-8.5,5.5,5.5,1.5,0.3,-1.5,-3.5,4,4,5.5,2.5,1,2,0.2,1.5,2.5],
    [-1.3,-5,-2.2,-8.5,-3,0.7,-1.2,-3.5,-4.5,0,5,2.5,8.5,6.5,9.5,-1,2,-2],
    [-7.5,-5,-3.5,-1.5,-1.5,-0.3,-4,-3.5,-3.5,-2,0.7,-0.5,10,9.5,7,4,3,1],
    [-6.5,-2.5,-2.5,0.7,2,-0.7,-9.5,-8.5,-7,3,4,4.5,4.5,8,6.5,3,1,5.5],
    [-5.5,-4,-7,0.5,3.5,3.5,-5,-7,-9.5,3.5,3,1.5,6.5,1.5,4.5,4.5,4.5,4.5],
    [-6,-8,-8,1,1,3.5,-5,-5,-4.5,0.2,3,-0.2,6,3.5,4.5,0,8,7.5],
    [-6,-7.5,-6.5,-3.5,-3,-4,-4.5,-4.5,-4.5,3.5,3.5,3.5,5,5,5,6.5,6.5,7],
    [-8.5,-8.5,-8,-2.5,-3,-4,-2,-2,-2,3,3.5,3,5,5,4,6,6.5,6.5],
    [-8,-8,-8,-2.5,-3,-4,-3,-2,-2,2.5,3,2.5,6,7,4.5,6,6,6],
    [-8.5,-8,-9.5,1.5,1.5,0.7,-2,-2,-6.5,1,1.5,2,5.5,4.5,6,6,6,5.5],
    [-8.5,-4,-5.5,1,-0.7,-1,-5,-6.5,-6,1.5,2,1.5,6.5,6.5,6,5.5,4.5,5.5],
    [-10,-10,-9.5,1.5,0.7,0.3,-1,0,0,3,3.5,3,3,4,4,3.5,2,6],
    [-9.5,-9.5,-9.5,1,-2.5,-0.7,-1.2,-0.2,0.5,3.5,2.5,0.3,4.5,4.5,3.5,6,5.5,5],
    [-9.5,-9,-9.5,2.5,2.5,1,-0.8,-3.5,-1.5,7,4.5,3.5,2,2,0.3,4,4.5,5],
    [-9.5,-9.5,-10,0.5,0.7,1.5,-2,-2.5,-1.2,4.5,5,3.5,4,4,2.5,3.5,3.5,4],
    [-7.5,-5.5,-9.5,3,2,1.5,-4,-1,-5.5,5,5.5,4.5,6.5,6,6.5,2,-3.5,-1],
    [-6.5,-7.5,-7,2,0.3,-0.5,-7,-5,-5,4.5,7,6,5.5,3.5,4.5,3,2,3.5],
    [-6.5,-6,-7,-3,-3,-2,-3.5,-4,-3,8.5,8.5,8,4.5,3.5,3.5,2,1,1],
    [0,0.5,5,-5.5,-1,-0.7,-4.5,-9.5,-8.5,1.5,-0.8,-1.5,1.5,5,3.5,3.5,6.5,9],
    [-4,-0.3,-2,-7,-5.5,-4.5,-1,-3.5,-5,1.5,0,0,3,8,3,9,8.5,3.5],
    [X,X,X,X,X,X,X,X,X,-6,-6,-3.5,-0.2,0.3,0.3,3.5,6.5,7.5],
    [-2,-9,-3.5,1.5,-0.7,2.5,3,-3,-10,-1,-3.5,-2.5,7,3,5,6.5,6.5,4.5],
]
h_tree = [1,
          [.9,[.71,[.62,1,[.5,[.16,2],[.33,[.2,2],1]]],1],[.81,[.65,2],[.38,2]]],
          [.74,[.7,1,[.6,1,[.52,1,[.5,1,[.45,[.35,1,[.3,1,[.2,2]]],
                                     [.42,[.4,2],[.38,1,[.34,[.3,2],[.25,[.22,[.05,3],[.2,2]],[.12,1,[.1,1,[.06,2]]]],
                                                          [.3,1,[.2,2]]]]]]]]]],
           [.68,[.55,2],[.45,2]]]]

# tick labels of the small intensity scales
ticks_25 = [-2.5, -2, -1.5, -1, -0.5, 0, 0.5, 1, 1.5, 2]
ticks_20 = [-2, -1.5, -1, -0.5, 0, 0.5, 1, 1.5, 2]
ticks_30 = [-3, -2.5, -2, -1.5, -1, -0.5, 0, 0.5, 1, 1.5, 2]

sns.set_theme(style="white")
plt.rcParams["font.family"] = ["Open Sans", "DejaVu Sans"]

cmap = LinearSegmentedColormap.from_list("bwr2", ["#0000a0", "#ffffff", "#ff0000"])
fig = plt.figure(figsize=(40.84, 26.86), dpi=100)


# layout numbers are read on the 1568 px wide picture
def add_axes(x0, y0, x1, y1):
    W, H = 1568, 1031
    return fig.add_axes([x0 / W, 1 - y1 / H, (x1 - x0) / W, (y1 - y0) / H])


def draw_tree(ax, node, counter):
    ys, hs = [], []
    for child in node[1:]:
        if isinstance(child, int):
            for i in range(child):
                ys.append(counter[0] + 0.5)
                hs.append(0)
                counter[0] += 1
        else:
            y, h = draw_tree(ax, child, counter)
            ys.append(y)
            hs.append(h)
    for y, h in zip(ys, hs):
        ax.plot([-node[0], -h], [y, y], color="#111111", lw=2.6, solid_capstyle="butt")
    ax.plot([-node[0], -node[0]], [min(ys), max(ys)], color="#111111", lw=2.6)
    return (min(ys) + max(ys)) / 2, node[0]


def draw_box(x0, x1, y0, y1, text):
    ax = add_axes(x0, y0, x1, y1)
    ax.set_xticks([])
    ax.set_yticks([])
    for s in ax.spines.values():
        s.set_visible(True)
        s.set_linewidth(3.6)
        s.set_color("black")
    ax.text(0.5, 0.41, text, ha="center", va="center", fontsize=35, fontweight="bold",
            color="black", transform=ax.transAxes)


def draw_scale(x0, x1, y_top, y_bar, lim, ticks):
    # gradient bar
    ax = add_axes(x0, y_bar, x1, y_bar + 6)
    ax.imshow(np.linspace(-1, 1, 400)[None, :], aspect="auto", cmap=cmap, vmin=-1, vmax=1,
              extent=[lim[0], lim[1], 0, 1])
    ax.axis("off")
    # axis with ticks above the bar
    ax2 = add_axes(x0, y_top, x1, y_bar)
    ax2.set_xlim(lim)
    ax2.set_ylim(0, 1)
    ax2.patch.set_alpha(0)
    for s in ax2.spines.values():
        s.set_visible(False)
    ax2.spines["top"].set_visible(True)
    ax2.spines["top"].set_color("#b4b4b4")
    ax2.spines["top"].set_linewidth(2.2)
    ax2.xaxis.tick_top()
    ax2.set_xticks(ticks)
    ax2.set_xticklabels([str(t).replace(".", ",") for t in ticks], fontsize=7, color="#777777")
    ax2.tick_params(axis="x", length=3, width=1, color="#999999", pad=1)
    ax2.set_yticks([])
    span = lim[1] - lim[0]
    ax2.axvline(lim[0] + 0.03 * span, color="#30306a", lw=2.6)
    ax2.axvline(lim[0] + 0.5 * span, color="#8a8a8a", lw=2.6)
    ax2.axvline(lim[0] + 0.968 * span, color="#8a3030", lw=2.6)
    ax2.text(0.5, 1.62, "Intensity", transform=ax2.transAxes, ha="center", va="bottom",
             fontsize=7, color="#666666")


def draw_panel(rows, genes, tree, title, title_size, letter, heat, root, tip, wt, kd, box_y, title_pos, scale, lim,
               ticks, label_size, letter_pos):
    df = pd.DataFrame(rows, index=genes)
    ax = add_axes(heat[0], heat[1], heat[2], heat[3])
    ax.set_facecolor("#808080")
    sns.heatmap(df, ax=ax, cmap=cmap, vmin=-10, vmax=10, cbar=False, xticklabels=False, yticklabels=False)

    ax_d = add_axes(root, heat[1], tip, heat[3])
    draw_tree(ax_d, tree, [0])
    ax_d.set_xlim(-1, 0)
    ax_d.set_ylim(len(genes), 0)
    ax_d.axis("off")
    for i, gene in enumerate(genes):
        ax_d.annotate(gene, xy=(0, i + 0.5), xytext=(3, 0), textcoords="offset points", va="center", ha="left",
                      fontsize=label_size, color="#3e3e5c", family=["Liberation Sans"], annotation_clip=False)

    draw_box(wt[0], wt[1], box_y[0], box_y[1], "WT")
    draw_box(kd[0], kd[1], box_y[0], box_y[1], "PML KD")
    fig.text(title_pos[0] / 1568, 1 - title_pos[1] / 1031, title, ha="center", va="center", fontsize=title_size,
             fontweight="bold", color="black")
    draw_scale(scale[0], scale[1], scale[2], scale[3], lim, ticks)
    fig.text(letter_pos[0] / 1568, 1 - letter_pos[1] / 1031, letter, ha="center", va="center", fontsize=50,
             fontweight="bold", color="black", family=["Liberation Serif"])


draw_panel(a_rows, a_genes, a_tree, "Mitotic cell cycle", 44, "(a)", (103, 75, 367, 412), 25, 69, (104, 233), (238, 365),
           (48, 72), (236, 35), (105, 365, 426, 434), (-2.8, 2.2), ticks_25, 16, (198, 483))
draw_panel(b_rows, b_genes, b_tree, "JAK-STAT3 signaling", 45.5, "(b)", (521, 75, 764, 416), 410, 460, (520, 641), (641, 762),
           (48, 71), (636, 35), (515, 765, 426, 434), (-2.57, 2.2), ticks_25, 19, (595, 483))
draw_panel(c_rows, c_genes, c_tree, "PML Body (PML-NB)", 43, "(c)", (894, 76, 1128, 418), 818, 852, (894, 1006), (1013, 1126),
           (50, 73), (1008, 36), (893, 1125, 427, 435), (-2.66, 2.27), ticks_25, 14.5, (992, 483))
draw_panel(d_rows, d_genes, d_tree, "Protein sumoylation", 41.5, "(d)", (1324, 76, 1540, 416), 1226, 1274, (1326, 1428), (1435, 1541),
           (49, 73), (1431, 35), (1322, 1542, 426, 434), (-2.56, 2.04), ticks_25, 17.5, (1381, 483))
draw_panel(e_rows, e_genes, e_tree, "Ribonucleoprotein biogenesi", 42, "(e)", (115, 570, 348, 908), 24, 79, (115, 228), (232, 348),
           (545, 567), (233, 529), (115, 349, 919, 928), (-2.31, 2.08), ticks_20, 14.5, (198, 1001))
draw_panel(f_rows, f_genes, f_tree, "Translation initiation", 42.5, "(f)", (499, 571, 745, 912), 420, 459, (499, 618), (622, 744),
           (545, 566), (615, 529), (490, 746, 922, 929), (-2.83, 2.12), ticks_25, 16, (595, 1001))
draw_panel(g_rows, g_genes, g_tree, "Cytoplasmic translation", 43, "(g)", (882, 567, 1126, 905), 818, 855, (882, 1000), (1004, 1122),
           (543, 564), (997, 530), (882, 1126, 920, 928), (-3.23, 2.31), ticks_30, 6, (993, 1001))
draw_panel(h_rows, h_genes, h_tree, "Proteasome", 43.5, "(h)", (1287, 568, 1527, 905), 1204, 1249, (1287, 1405), (1410, 1526),
           (544, 566), (1406, 529), (1288, 1527, 917, 925), (-2.4, 2.32), ticks_20, 16.5, (1381, 1001))

fig.savefig("out.png", dpi=100, facecolor="white")
